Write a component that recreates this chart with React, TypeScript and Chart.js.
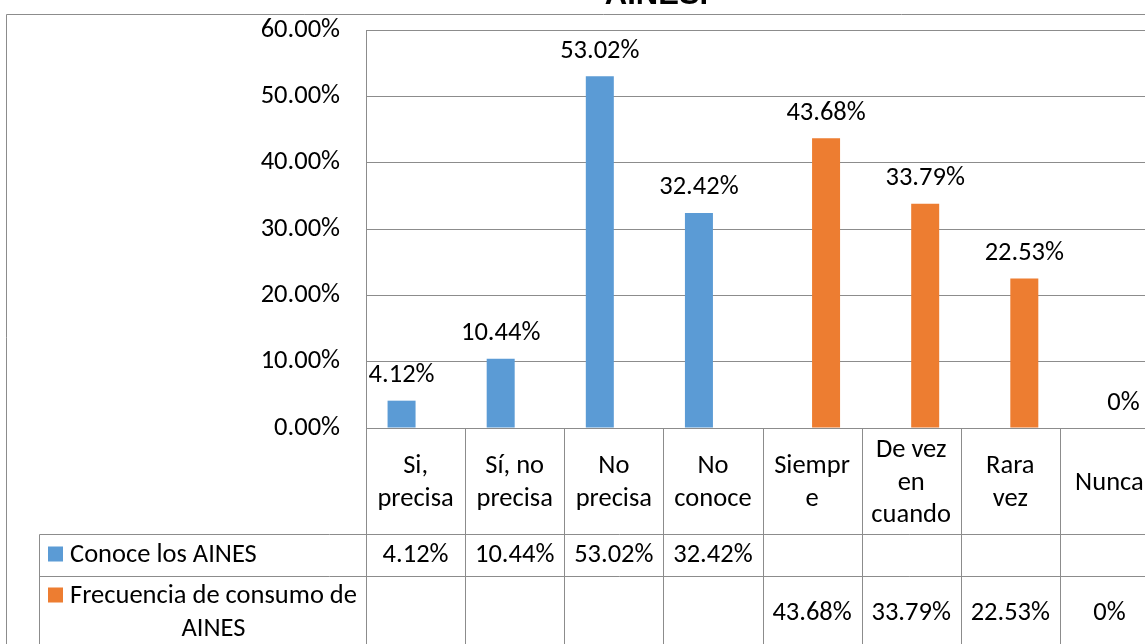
import React, { useEffect, useRef } from "react";
import { Chart, registerables } from "chart.js";

Chart.register(...registerables);

// ---- data ----
const categories: string[][] = [
  ["Si,", "precisa"],
  ["Sí, no", "precisa"],
  ["No", "precisa"],
  ["No", "conoce"],
  ["Siempr", "e"],
  ["De vez", "en", "cuando"],
  ["Rara", "vez"],
  ["Nunca"],
];
const conoceValues: (number | null)[] = [4.12, 10.44, 53.02, 32.42, null, null, null, null];
const frecuenciaValues: (number | null)[] = [null, null, null, null, 43.68, 33.79, 22.53, 0];
const seriesNames: string[][] = [["Conoce los AINES"], ["Frecuencia de consumo de", "AINES"]];
const seriesColors = ["#5B9BD5", "#ED7D31"];
const titleText = "AINES.";
const yMax = 60;
const yStep = 10;

const FONT = "Carlito, 'Open Sans', sans-serif";
const FS = 26.5;
const GRID = "#8C8C8C";

const W = 1200;
const H = 660;

function fmtTick(v: number) {
  return v.toFixed(2) + "%";
}
function fmtValue(v: number) {
  return v === 0 ? "0%" : v.toFixed(2) + "%";
}

const tablePlugin = {
  id: "tablePlugin",
  afterDraw(chart: any) {
    const ctx: CanvasRenderingContext2D = chart.ctx;
    const area = chart.chartArea;
    const n = categories.length;
    const cw = (area.right - area.left) / n;
    const catBottom = area.bottom + 106;
    const row1Bottom = catBottom + 42;
    const px = (v: number) => Math.round(v) + 0.5;

    ctx.save();
    // title
    ctx.fillStyle = "#000";
    ctx.font = "bold 31px 'Liberation Sans', Arial, sans-serif";
    ctx.textAlign = "center";
    ctx.textBaseline = "alphabetic";
    ctx.fillText(titleText, 656.5, 4);

    // lines
    ctx.strokeStyle = GRID;
    ctx.lineWidth = 1;
    ctx.beginPath();
    // outer frame
    ctx.moveTo(px(6), px(14));
    ctx.lineTo(W, px(14));
    ctx.moveTo(px(6), px(14));
    ctx.lineTo(px(6), H);
    // category columns
    for (let i = 0; i <= n; i++) {
      const x = px(area.left + i * cw);
      ctx.moveTo(x, px(area.bottom));
      ctx.lineTo(x, H);
    }
    // table rows
    ctx.moveTo(px(39), px(catBottom));
    ctx.lineTo(W, px(catBottom));
    ctx.moveTo(px(39), px(row1Bottom));
    ctx.lineTo(W, px(row1Bottom));
    ctx.moveTo(px(39), px(catBottom));
    ctx.lineTo(px(39), H);
    ctx.stroke();

    ctx.fillStyle = "#000";
    ctx.font = `${FS}px ${FONT}`;
    ctx.textAlign = "center";
    ctx.textBaseline = "alphabetic";
    const lh = 32.5;
    const catMid = (area.bottom + catBottom) / 2;
    categories.forEach((lines, i) => {
      const cx = area.left + (i + 0.5) * cw;
      lines.forEach((t, k) => {
        const y = catMid - ((lines.length - 1) / 2) * lh + k * lh + 8.5;
        ctx.fillText(t, cx, y);
      });
    });

    // series rows
    const rowBaselines = [catBottom + 28, row1Bottom + 44];
    const legendBaselines = [catBottom + 28, row1Bottom + 27];
    const allValues = [conoceValues, frecuenciaValues];
    allValues.forEach((vals, d) => {
      vals.forEach((v, i) => {
        if (v == null) return;
        const cx = area.left + (i + 0.5) * cw;
        ctx.textAlign = "center";
        ctx.fillText(fmtValue(v), cx, rowBaselines[d]);
      });
      // legend
      const lines = seriesNames[d];
      const by = legendBaselines[d];
      ctx.fillStyle = seriesColors[d];
      ctx.fillRect(48, by - 15.5, 15, 15);
      ctx.fillStyle = "#000";
      ctx.textAlign = "left";
      ctx.fillText(lines[0], 70, by);
      const w0 = ctx.measureText(lines[0]).width;
      for (let k = 1; k < lines.length; k++) {
        ctx.textAlign = "center";
        ctx.fillText(lines[k], 70 + w0 / 2, by + k * lh);
      }
    });

    // data labels above bars
    ctx.textAlign = "center";
    chart.data.datasets.forEach((ds: any, d: number) => {
      const meta = chart.getDatasetMeta(d);
      meta.data.forEach((el: any, i: number) => {
        const v = ds.data[i];
        if (v == null) return;
        ctx.fillText(fmtValue(v), el.x, el.y - 18.5);
      });
    });
    ctx.restore();
  },
};

export default function App() {
  const ref = useRef<HTMLCanvasElement>(null);
  useEffect(() => {
    const canvas = ref.current!;
    Chart.defaults.font.family = FONT;
    const chart = new Chart(canvas, {
      type: "bar",
      data: {
        labels: categories,
        datasets: [
          {
            label: seriesNames[0].join(" "),
            data: conoceValues,
            backgroundColor: seriesColors[0],
            categoryPercentage: 0.565,
            barPercentage: 1,
          },
          {
            label: seriesNames[1].join(" "),
            data: frecuenciaValues,
            backgroundColor: seriesColors[1],
            categoryPercentage: 0.565,
            barPercentage: 1,
          },
        ],
      },
      options: {
        animation: false,
        responsive: false,
        devicePixelRatio: 1,
        layout: { padding: { top: 30, left: 0, right: W - 1159, bottom: 0 } },
        plugins: {
          legend: { display: false },
          title: { display: false },
          tooltip: { enabled: false },
        },
        scales: {
          x: {
            grid: { display: false },
            border: { display: false },
            ticks: { display: false },
            afterFit: (s: any) => {
              s.height = H - 428;
              s.paddingLeft = 0;
              s.paddingRight = 0;
            },
          },
          y: {
            min: 0,
            max: yMax,
            grid: { color: GRID, drawTicks: false },
            border: { display: true, color: GRID },
            ticks: {
              stepSize: yStep,
              padding: 26,
              color: "#000",
              font: { family: FONT, size: FS },
              callback: (v: any) => fmtTick(Number(v)),
            },
            afterFit: (s: any) => {
              s.width = 366;
              s.paddingTop = 0;
              s.paddingBottom = 0;
            },
          },
        },
      },
      plugins: [tablePlugin],
    });
    return () => chart.destroy();
  }, []);
  return (
    <div style={{ position: "fixed", left: 0, top: 0, width: 1145, height: 644, overflow: "hidden", background: "#fff" }}>
      <canvas ref={ref} width={W} height={H} style={{ width: W, height: H, display: "block" }} />
    </div>
  );
}
